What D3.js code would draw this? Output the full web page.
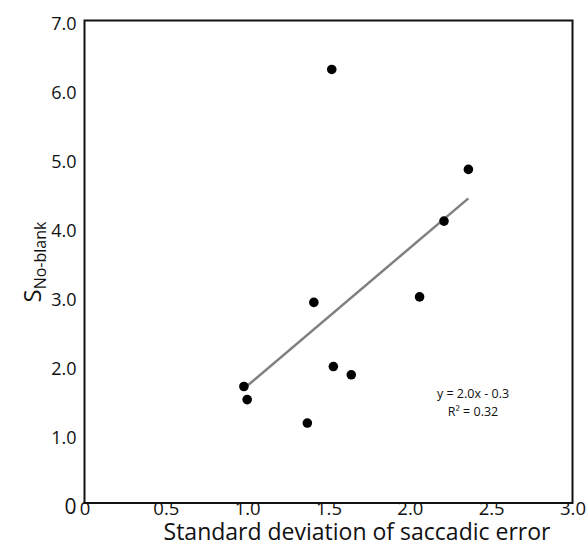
<!DOCTYPE html>
<html>
<head>
<meta charset="utf-8">
<script src="https://cdn.jsdelivr.net/npm/d3@7"></script>
<style>
  html, body { margin: 0; padding: 0; background: #fff; }
  svg { display: block; }
  text { font-family: "Open Sans", Lato, sans-serif; fill: #111; }
</style>
</head>
<body>
<div id="chart"></div>
<script>
// Spread of saccadic error vs. S(No-blank), one point per participant
const sdError = [1.52, 2.36, 2.21, 1.41, 2.06, 1.53, 1.64, 0.98, 1.00, 1.37];
const sNoBlank = [6.29, 4.84, 4.09, 2.91, 2.99, 1.98, 1.86, 1.69, 1.50, 1.16];

// Linear trend as reported in the annotation
const slope = 2.0;
const intercept = -0.3;
const rSquared = 0.32;

const xTicks = [0, 0.5, 1.0, 1.5, 2.0, 2.5, 3.0];
const yTicks = [0, 1, 2, 3, 4, 5, 6, 7];

const width = 586, height = 547;
const margin = { top: 20.5, right: 13.5, bottom: 44, left: 84.5 };

const svg = d3.select("#chart").append("svg")
  .attr("width", width).attr("height", height);

const x = d3.scaleLinear().domain([0, 3]).range([margin.left, width - margin.right]);
const y = d3.scaleLinear().domain([0, 7]).range([height - margin.bottom, margin.top]);

// Y tick labels
const yAxis = svg.append("g")
  .attr("transform", `translate(${margin.left},0)`)
  .call(d3.axisLeft(y).tickValues(yTicks).tickSize(0).tickPadding(8)
    .tickFormat(d => d === 0 ? "0" : d3.format(".1f")(d)));
yAxis.select(".domain").remove();
yAxis.selectAll("text")
  .style("font-size", d => d === 0 ? "21px" : "18px")
  .attr("dy", "0.5em");

// X tick labels
const xAxis = svg.append("g")
  .attr("transform", `translate(0,${height - margin.bottom})`)
  .call(d3.axisBottom(x).tickValues(xTicks).tickSize(0).tickPadding(0)
    .tickFormat(d => d === 0 ? "0" : d3.format(".1f")(d)));
xAxis.select(".domain").remove();
xAxis.selectAll("text").style("font-size", "18.5px").attr("dy", "0.66em");

// Plot frame
svg.append("rect")
  .attr("x", x(0)).attr("y", y(7))
  .attr("width", x(3) - x(0)).attr("height", y(0) - y(7))
  .attr("fill", "none").attr("stroke", "#111").attr("stroke-width", 2);

// Trend line over the range of the data
const xMin = d3.min(sdError), xMax = d3.max(sdError);
svg.append("line")
  .attr("x1", x(xMin)).attr("y1", y(slope * xMin + intercept))
  .attr("x2", x(xMax)).attr("y2", y(slope * xMax + intercept))
  .attr("stroke", "#808080").attr("stroke-width", 2.5);

// Points
svg.append("g").selectAll("circle")
  .data(sdError.map((v, i) => [v, sNoBlank[i]]))
  .join("circle")
  .attr("cx", d => x(d[0])).attr("cy", d => y(d[1]))
  .attr("r", 4.8).attr("fill", "#000");

// Equation annotation
const ann = svg.append("g")
  .attr("text-anchor", "middle")
  .style("font-size", "12.5px");
ann.append("text").attr("x", 473).attr("y", 398)
  .text(`y = ${slope.toFixed(1)}x - ${Math.abs(intercept).toFixed(1)}`);
ann.append("text").attr("x", 473).attr("y", 416)
  .text(`R² = ${rSquared.toFixed(2)}`);

// Axis titles
svg.append("text")
  .attr("x", 357).attr("y", 540)
  .attr("text-anchor", "middle")
  .style("font-size", "23px")
  .text("Standard deviation of saccadic error");

const yTitle = svg.append("text")
  .attr("transform", `translate(41,262) rotate(-90)`)
  .attr("text-anchor", "middle");
yTitle.append("tspan").style("font-size", "24px").text("S");
yTitle.append("tspan").style("font-size", "16px").attr("dy", "0.3em").text("No-blank");
</script>
</body>
</html>
